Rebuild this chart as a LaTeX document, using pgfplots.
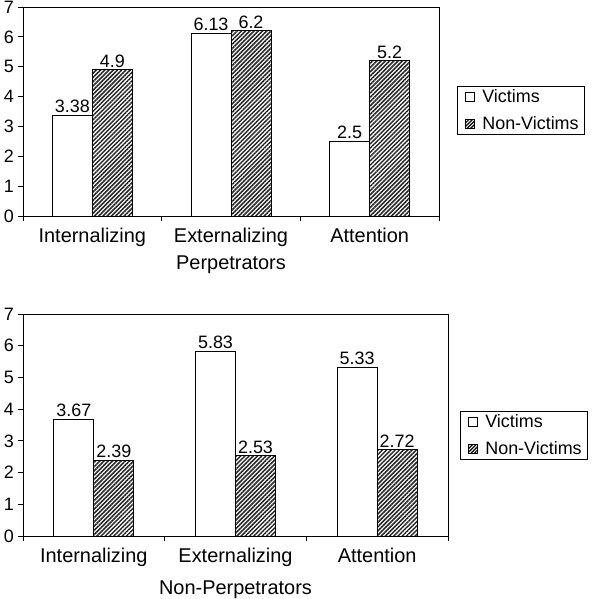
\documentclass[border=0pt]{standalone}
\usepackage{fontspec}
\setmainfont{Liberation Sans}
\usepackage{pgfplots}
\pgfplotsset{compat=1.18}
\usetikzlibrary{patterns.meta}
\tikzset{hatch/.style={pattern={Lines[angle=45,distance=3bp,line width=1.5bp]},pattern color=black!85}}
\pgfplotsset{
  barstyle/.style={
    scale only axis,
    /pgf/number format/assume math mode=true,
    ybar=0pt, bar width=40bp,
    xmin=-0.5, xmax=2.5, ymin=0, ymax=7,
    ytick={0,...,7},
    xtick={-0.5,0.5,1.5,2.5},
    xticklabels={},
    extra x ticks={0,1,2},
    extra x tick labels={Internalizing,Externalizing,Attention},
    extra x tick style={major tick length=0pt},
    xtick pos=bottom, ytick pos=left,
    tick align=outside,
    major tick length=5bp,
    axis line style={black, line width=0.9bp},
    tick style={black, line width=0.9bp},
    ticklabel style={font=\fontsize{18}{20}\selectfont},
    yticklabel style={inner xsep=0pt, xshift=-4bp},
    xticklabel style={font=\fontsize{20}{22}\selectfont, yshift=-9bp},
    xlabel style={font=\fontsize{20}{22}\selectfont, at={(axis description cs:0.5,0)}, anchor=base},
    nodes near coords,
    every node near coord/.append style={font=\fontsize{18}{20}\selectfont, inner sep=2bp},
    legend style={draw=black, line width=0.9bp, font=\fontsize{18}{21}\selectfont,
      inner xsep=4bp, inner ysep=2bp, row sep=8bp, cells={anchor=west}},
    legend cell align=left,
  },
  vic/.style={draw=black, fill=white, line width=0.9bp,
    legend image code/.code={\draw[black, fill=white, line width=0.9bp] (4bp,-4.5bp) rectangle (13bp,4.5bp);
      \path[draw=none, fill=none] (0bp,0bp) rectangle (19bp,0.1bp);}},
  nonvic/.style={draw=black, hatch, line width=0.9bp,
    legend image code/.code={\draw[black, line width=0.9bp, pattern={Lines[angle=45,distance=2.5bp,line width=1.2bp]}, pattern color=black] (4bp,-4.5bp) rectangle (13bp,4.5bp);
      \path[draw=none, fill=none, pattern=none] (0bp,0bp) rectangle (19bp,0.1bp);}},
}
\begin{document}
\begin{tikzpicture}
\path[use as bounding box] (0,0) rectangle (600bp,599bp);
\begin{axis}[barstyle, at={(23bp,383bp)}, anchor=south west,
  width=416bp, height=209bp,
  xlabel={Perpetrators}, xlabel style={yshift=-54bp},
  legend style={at={(1.043,0.505)}, anchor=west}]
\addplot[vic] coordinates {(0,3.38) (1,6.13) (2,2.5)};
\addplot[nonvic] coordinates {(0,4.9) (1,6.2) (2,5.2)};
\legend{Victims,Non-Victims}
\end{axis}
\begin{axis}[barstyle, at={(23bp,63bp)}, anchor=south west,
  width=425bp, height=222bp,
  xlabel={Non-Perpetrators}, xlabel style={yshift=-58bp},
  legend style={at={(1.028,0.453)}, anchor=west}]
\addplot[vic] coordinates {(0,3.67) (1,5.83) (2,5.33)};
\addplot[nonvic] coordinates {(0,2.39) (1,2.53) (2,2.72)};
\legend{Victims,Non-Victims}
\end{axis}
\end{tikzpicture}
\end{document}
